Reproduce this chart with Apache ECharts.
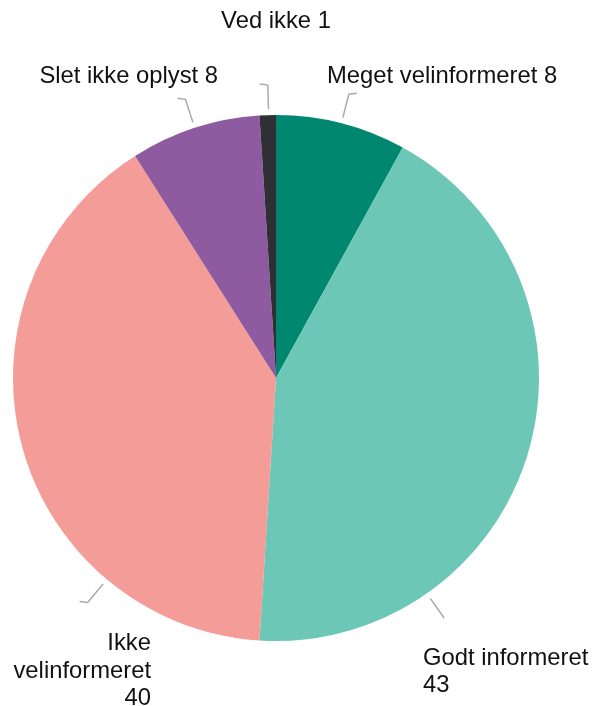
<!DOCTYPE html>
<html><head><meta charset="utf-8">
<script src="https://cdn.jsdelivr.net/npm/echarts@6/dist/echarts.min.js"></script>
<style>html,body{margin:0;padding:0;background:#fff}#c{width:593px;height:706px}</style>
</head><body><div id="c"></div>
<script>
const categories = ['Meget velinformeret', 'Godt informeret', 'Ikke velinformeret', 'Slet ikke oplyst', 'Ved ikke'];
const values = [8, 43, 40, 8, 1];
const labelTexts = ['Meget velinformeret 8', 'Godt informeret\n43', 'Ikke\nvelinformeret\n40', 'Slet ikke oplyst 8', 'Ved ikke 1'];
const colors = ['#00876F', '#6CC7B6', '#F39C98', '#8F5BA0', '#2F2F36'];

// label layout (positions / styles only)
const CX = 276, CY = 378, R = 263;
const labelPos = [
  {x: 327, y: 76, align: 'left', ang: 14.4, side: 1},
  {x: 423, y: 672, align: 'left', ang: 145, side: 0},
  {x: 151, y: 671, align: 'right', ang: 220, side: -1},
  {x: 218, y: 76, align: 'right', ang: 342, side: -1},
  {x: 276, y: 21, align: 'center', ang: 358.4, side: -1}
];
function pt(angDeg, r) {
  const a = angDeg * Math.PI / 180;
  return [CX + r * Math.sin(a), CY - r * Math.cos(a)];
}

const chart = echarts.init(document.getElementById('c'), null, {renderer: 'canvas'});
chart.setOption({
  animation: false,
  series: [{
    type: 'pie',
    center: [CX, CY],
    radius: [0, R],
    startAngle: 90,
    clockwise: true,
    avoidLabelOverlap: false,
    data: categories.map((n, i) => ({name: n, value: values[i], itemStyle: {color: colors[i]}})),
    label: {
      show: true,
      position: 'outside',
      alignTo: 'none',
      overflow: 'none',
      formatter: p => labelTexts[p.dataIndex],
      fontFamily: 'Liberation Sans, Arial, sans-serif',
      fontSize: 23.8,
      lineHeight: 27.5,
      color: '#111'
    },
    labelLine: {show: true, length: 25, length2: 8, lineStyle: {color: '#aaaaaa', width: 1.5}},
    labelLayout: function (params) {
      const lp = labelPos[params.dataIndex];
      const p0 = pt(lp.ang, R + 6);
      const p1 = pt(lp.ang, R + 30);
      const p2 = [p1[0] + lp.side * 8, p1[1] - (lp.side !== 0 ? 1 : 0)];
      return {
        x: lp.x, y: lp.y, align: lp.align, verticalAlign: 'middle',
        width: 400, overflow: 'none',
        labelLinePoints: [p0, p1, p2]
      };
    }
  }]
});
</script>
</body></html>
